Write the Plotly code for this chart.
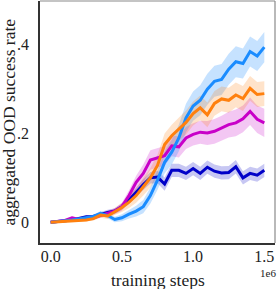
import plotly.graph_objects as go

steps = [round(i * 0.05, 2) for i in range(31)]  # training steps in units of 1e6

blue = [0.0, 0.001, 0.003, 0.005, 0.008, 0.010, 0.013, 0.020, 0.015, 0.006, 0.010,
        0.018, 0.025, 0.035, 0.060, 0.095, 0.135, 0.158, 0.190, 0.235, 0.262,
        0.275, 0.300, 0.318, 0.322, 0.345, 0.362, 0.358, 0.385, 0.375, 0.395]
blue_sd = [0.0, 0.001, 0.002, 0.002, 0.003, 0.003, 0.004, 0.005, 0.006, 0.006, 0.008,
           0.010, 0.012, 0.015, 0.018, 0.022, 0.025, 0.028, 0.030, 0.032, 0.033,
           0.034, 0.035, 0.035, 0.035, 0.035, 0.035, 0.034, 0.034, 0.034, 0.034]

orange = [0.0, 0.001, 0.002, 0.003, 0.004, 0.005, 0.008, 0.016, 0.014, 0.024, 0.033,
          0.045, 0.060, 0.080, 0.100, 0.128, 0.175, 0.195, 0.210, 0.225, 0.245,
          0.258, 0.242, 0.268, 0.278, 0.275, 0.287, 0.279, 0.302, 0.288, 0.290]
orange_sd = [0.0, 0.001, 0.002, 0.002, 0.003, 0.003, 0.004, 0.006, 0.007, 0.008, 0.010,
             0.013, 0.016, 0.020, 0.022, 0.024, 0.025, 0.025, 0.026, 0.027, 0.027,
             0.028, 0.028, 0.028, 0.028, 0.028, 0.028, 0.028, 0.028, 0.028, 0.028]

magenta = [0.0, 0.002, 0.004, 0.010, 0.006, 0.008, 0.010, 0.015, 0.020, 0.025, 0.035,
           0.060, 0.090, 0.110, 0.140, 0.145, 0.150, 0.172, 0.170, 0.190, 0.198,
           0.203, 0.201, 0.205, 0.212, 0.220, 0.224, 0.233, 0.250, 0.232, 0.224]
magenta_sd = [0.0, 0.001, 0.002, 0.003, 0.003, 0.004, 0.004, 0.005, 0.006, 0.007, 0.009,
              0.012, 0.015, 0.020, 0.022, 0.022, 0.022, 0.023, 0.024, 0.025, 0.025,
              0.026, 0.027, 0.028, 0.028, 0.029, 0.030, 0.030, 0.031, 0.031, 0.032]

darkblue = [0.0, 0.001, 0.003, 0.005, 0.008, 0.012, 0.013, 0.018, 0.022, 0.025, 0.035,
            0.050, 0.068, 0.085, 0.100, 0.102, 0.086, 0.117, 0.117, 0.110, 0.121,
            0.110, 0.124, 0.115, 0.111, 0.112, 0.125, 0.100, 0.110, 0.106, 0.117]
darkblue_sd = [0.0, 0.001, 0.002, 0.002, 0.003, 0.003, 0.004, 0.005, 0.006, 0.006, 0.007,
               0.009, 0.010, 0.012, 0.013, 0.014, 0.015, 0.015, 0.015, 0.015, 0.015,
               0.015, 0.015, 0.015, 0.015, 0.015, 0.015, 0.015, 0.015, 0.015, 0.015]

x_ticks = [0.0, 0.5, 1.0, 1.5]
x_ticktext = ["0.0", "0.5", "1.0", "1.5"]
y_ticks = [0.0, 0.2, 0.4]
y_ticktext = ["0", ".2", ".4"]

series = [
    (darkblue, darkblue_sd, "#0000c8", "rgba(0,0,200,0.22)"),
    (magenta, magenta_sd, "#c800c8", "rgba(200,0,200,0.22)"),
    (blue, blue_sd, "#1a8cff", "rgba(26,140,255,0.25)"),
    (orange, orange_sd, "#ff800e", "rgba(255,128,14,0.22)"),
]

fig = go.Figure()
for vals, sd, col, fcol in series:
    upper = [v + s for v, s in zip(vals, sd)]
    lower = [v - s for v, s in zip(vals, sd)]
    fig.add_trace(go.Scatter(x=steps, y=upper, mode="lines", line=dict(width=0),
                             showlegend=False, hoverinfo="skip"))
    fig.add_trace(go.Scatter(x=steps, y=lower, mode="lines", line=dict(width=0),
                             fill="tonexty", fillcolor=fcol, showlegend=False,
                             hoverinfo="skip"))
for vals, sd, col, fcol in series:
    fig.add_trace(go.Scatter(x=steps, y=vals, mode="lines",
                             line=dict(color=col, width=3), showlegend=False))

serif = "Liberation Serif"
fig.update_layout(
    width=277, height=289,
    margin=dict(l=40, r=2, t=1, b=46),
    plot_bgcolor="white", paper_bgcolor="white",
    font=dict(family=serif, color="#222222"),
    xaxis=dict(range=[-0.075, 1.575], tickvals=x_ticks, ticktext=x_ticktext,
               showgrid=False, zeroline=False, showline=True, linecolor="#333333",
               linewidth=1.5, ticks="", tickfont=dict(family=serif, size=16, color="#222222"),
               ticklabelstandoff=-2),
    yaxis=dict(range=[-0.047, 0.499], tickvals=y_ticks, ticktext=y_ticktext,
               showgrid=False, zeroline=False, showline=True, linecolor="#333333",
               linewidth=1.5, ticks="", tickfont=dict(family=serif, size=16, color="#222222"),
               ticklabelstandoff=6),
    shapes=[
        dict(type="line", xref="paper", yref="paper", x0=0, x1=1, y0=1, y1=1,
             line=dict(color="#8a8a8a", width=1.2)),
        dict(type="line", xref="paper", yref="paper", x0=1, x1=1, y0=0, y1=1,
             line=dict(color="#8a8a8a", width=1.2)),
    ],
    annotations=[
        dict(text="aggregated OOD success rate", xref="paper", yref="paper",
             x=-0.13, y=0.5, textangle=-90, showarrow=False, xanchor="center",
             yanchor="middle", font=dict(family=serif, size=17.5, color="#222222")),
        dict(text="training steps", xref="paper", yref="paper",
             x=0.5, y=-0.152, showarrow=False, xanchor="center",
             yanchor="middle", font=dict(family=serif, size=17.5, color="#222222")),
        dict(text="1e6", xref="paper", yref="paper",
             x=0.97, y=-0.122, showarrow=False, xanchor="center",
             yanchor="middle", font=dict(family=serif, size=11, color="#222222")),
    ],
)

fig.write_html("out.html", config={"displayModeBar": False},
               post_script="document.body.style.margin='0';")
